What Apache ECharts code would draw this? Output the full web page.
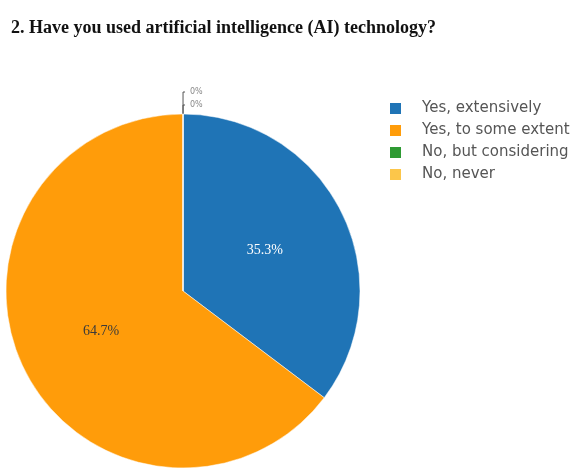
<!DOCTYPE html>
<html>
<head>
<meta charset="utf-8">
<script src="https://cdn.jsdelivr.net/npm/echarts@6/dist/echarts.min.js"></script>
<style>
html,body{margin:0;padding:0;background:#fff;}
#chart{width:576px;height:473px;}
</style>
</head>
<body>
<div id="chart"></div>
<script>
var titleText = "2. Have you used artificial intelligence (AI) technology?";
var categories = ["Yes, extensively", "Yes, to some extent", "No, but considering", "No, never"];
var counts = [6, 11, 0, 0];
var colors = ["#1f74b6", "#ff9c0a", "#2e9a33", "#fcc64a"];

var total = counts.reduce(function(a,b){return a+b;},0);
var labelColors = ["#ffffff", "#3a3a3a", "#888", "#888"];
var zeroLineLengths = [22, 9];

var zi = 0;
var data = categories.map(function(name, i){
  var item = {name: name, value: counts[i], itemStyle: {color: colors[i]}};
  if (counts[i] === 0) {
    item.label = {position: 'outside', fontSize: 8, color: '#888', fontFamily: 'DejaVu Sans'};
    item.labelLine = {show: true, length: zeroLineLengths[zi++], length2: 2, lineStyle: {color: '#555', width: 1}};
  } else {
    item.label = {position: 'inside', color: labelColors[i]};
    item.labelLine = {show: false};
  }
  return item;
});

var chart = echarts.init(document.getElementById('chart'), null, {renderer: 'canvas'});
chart.setOption({
  animation: false,
  backgroundColor: '#ffffff',
  title: {
    text: titleText,
    left: 6,
    top: 14,
    textStyle: {fontFamily: 'Liberation Serif', fontWeight: 'bold', fontSize: 18, color: '#111'}
  },
  legend: {
    orient: 'vertical',
    left: 383,
    top: 96,
    icon: 'rect',
    itemWidth: 13,
    itemHeight: 13,
    itemGap: 7,
    data: categories,
    textStyle: {fontFamily: 'DejaVu Sans', fontSize: 15, lineHeight: 15, color: '#555', padding: [0,0,0,15]}
  },
  series: [{
    type: 'pie',
    center: [183, 291],
    radius: [0, 177],
    startAngle: 89.99,
    clockwise: true,
    avoidLabelOverlap: false,
    data: data,
    itemStyle: {borderColor: '#ffffff', borderWidth: 0.5},
    label: {
      show: true,
      fontFamily: 'Liberation Serif',
      fontSize: 14,
      formatter: function(p){ return (p.value / total * 100).toFixed(p.value === 0 ? 0 : 1) + '%'; }
    },
    emphasis: {disabled: true}
  }]
});
</script>
</body>
</html>
